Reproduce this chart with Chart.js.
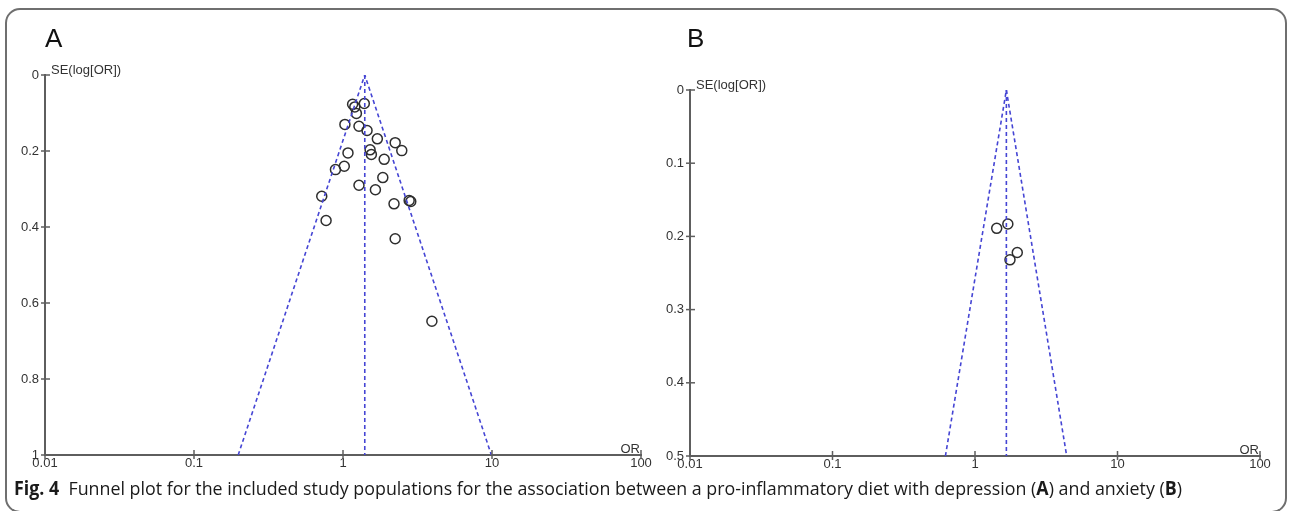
<!DOCTYPE html>
<html>
<head>
<meta charset="utf-8">
<script src="https://cdn.jsdelivr.net/npm/chart.js@4.4.1/dist/chart.umd.min.js"></script>
<style>
  html, body { margin: 0; padding: 0; background: #fff; }
  #wrap { position: relative; width: 1290px; height: 511px; overflow: hidden; }
  #frame { position: absolute; left: 5px; top: 8px; width: 1278px; height: 501px;
    border: 2px solid #6f6f6f; border-radius: 15px; }
  canvas { position: absolute; top: 0; }
  .panel { position: absolute; top: 25px; font: 26px/26px "Liberation Sans", Arial, sans-serif; color: #111; }
  #caption { position: absolute; left: 14px; top: 479px; font: 19px/19px "Open Sans", sans-serif;
    color: #1a1a1a; white-space: nowrap; transform-origin: 0 0; }
</style>
</head>
<body>
<div id="wrap">
  <div id="frame"></div>
  <canvas id="chartA" width="660" height="480" style="left:0px"></canvas>
  <canvas id="chartB" width="645" height="480" style="left:645px"></canvas>
  <div class="panel" style="left:45px">A</div>
  <div class="panel" style="left:687px">B</div>
  <div id="caption"><b>Fig. 4</b>&nbsp; Funnel plot for the included study populations for the association between a pro-inflammatory diet with depression (<b>A</b>) and anxiety (<b>B</b>)</div>
</div>
<script>
// tick values
const xTicks = [0.01, 0.1, 1, 10, 100];
const yTicksA = [0, 0.2, 0.4, 0.6, 0.8, 1];
const yTicksB = [0, 0.1, 0.2, 0.3, 0.4, 0.5];

// panel A: depression studies (OR, SE of log OR)
const orA = [1.16, 1.20, 1.23, 1.39, 1.03, 1.28, 1.45, 1.70, 2.24, 2.48, 1.52, 1.55, 1.08,
  1.89, 1.02, 0.89, 1.85, 1.28, 1.65, 0.72, 2.20, 2.78, 2.85, 0.77, 2.24, 3.95];
const seA = [0.077, 0.084, 0.101, 0.075, 0.130, 0.135, 0.146, 0.168, 0.178, 0.199, 0.197, 0.209, 0.205,
  0.222, 0.240, 0.249, 0.270, 0.290, 0.302, 0.319, 0.339, 0.330, 0.333, 0.383, 0.431, 0.648];
const pooledA = 1.40;
const funnelA = [0.198, 9.9];   // limits at the bottom of the axis
const seMaxA = 1;

// panel B: anxiety studies
const orB = [1.42, 1.70, 1.98, 1.76];
const seB = [0.189, 0.183, 0.222, 0.232];
const pooledB = 1.66;
const funnelB = [0.62, 4.4];
const seMaxB = 0.5;

const xTitle = 'OR';
const yTitle = 'SE(log[OR])';

const FONT = { family: '"Liberation Sans", Arial, sans-serif', size: 13 };
const AXIS = '#5e5e5e';
const BLUE = '#4545d4';

// tick marks crossing the axes + the small axis titles
const axisDecor = {
  id: 'axisDecor',
  afterDraw(chart) {
    const { ctx, chartArea, scales } = chart;
    ctx.save();
    ctx.strokeStyle = AXIS;
    ctx.lineWidth = 1.5;
    scales.x.ticks.forEach(t => {
      const px = scales.x.getPixelForValue(t.value);
      ctx.beginPath();
      ctx.moveTo(px, chartArea.bottom - 5);
      ctx.lineTo(px, chartArea.bottom + 4);
      ctx.stroke();
    });
    scales.y.ticks.forEach(t => {
      const py = scales.y.getPixelForValue(t.value);
      ctx.beginPath();
      ctx.moveTo(chartArea.left - 4, py);
      ctx.lineTo(chartArea.left + 5, py);
      ctx.stroke();
    });
    ctx.fillStyle = '#333';
    ctx.font = FONT.size + 'px ' + FONT.family;
    ctx.textBaseline = 'alphabetic';
    ctx.textAlign = 'left';
    ctx.fillText(yTitle, chartArea.left + 6, chartArea.top - 1);
    ctx.textAlign = 'right';
    ctx.fillText(xTitle, chartArea.right - 1, chartArea.bottom - 2);
    ctx.restore();
  }
};

function makeFunnel(id, ors, ses, pooled, limits, seMax, yTicks, pad, axisW, axisH) {
  const pts = ors.map((v, i) => ({ x: v, y: ses[i] }));
  const dashed = { type: 'line', showLine: true, borderColor: BLUE, borderWidth: 1.6,
    borderDash: [4, 3], pointRadius: 0, fill: false, tension: 0 };
  return new Chart(document.getElementById(id), {
    type: 'scatter',
    data: {
      datasets: [
        Object.assign({ data: [{ x: limits[0], y: seMax }, { x: pooled, y: 0 }, { x: limits[1], y: seMax }] }, dashed),
        Object.assign({ data: [{ x: pooled, y: 0 }, { x: pooled, y: seMax }] }, dashed),
        { data: pts, pointRadius: 5, pointBorderWidth: 1.5, borderColor: '#2e2e2e',
          backgroundColor: 'rgba(0,0,0,0)', pointStyle: 'circle' }
      ]
    },
    options: {
      responsive: false,
      animation: false,
      events: [],
      layout: { padding: pad },
      plugins: { legend: { display: false }, tooltip: { enabled: false } },
      scales: {
        x: {
          type: 'logarithmic', min: xTicks[0], max: xTicks[xTicks.length - 1],
          grid: { display: false, drawTicks: false },
          border: { display: true, color: AXIS, width: 2 },
          afterBuildTicks: s => { s.ticks = xTicks.map(v => ({ value: v })); },
          afterFit: s => { s.height = axisH; },
          ticks: { font: FONT, color: '#333', padding: 1, autoSkip: false, maxRotation: 0,
            callback: v => String(v) }
        },
        y: {
          type: 'linear', reverse: true, min: 0, max: seMax,
          grid: { display: false, drawTicks: false },
          border: { display: true, color: AXIS, width: 2 },
          afterBuildTicks: s => { s.ticks = yTicks.map(v => ({ value: v })); },
          afterFit: s => { s.width = axisW; },
          ticks: { font: FONT, color: '#333', padding: 6, callback: v => String(v) }
        }
      }
    },
    plugins: [axisDecor]
  });
}

makeFunnel('chartA', orA, seA, pooledA, funnelA, seMaxA, yTicksA,
  { top: 75, right: 19, left: 0, bottom: 0 }, 45, 25);
makeFunnel('chartB', orB, seB, pooledB, funnelB, seMaxB, yTicksB,
  { top: 90, right: 30, left: 0, bottom: 0 }, 45, 24);

// squeeze the caption to the width it has in the figure
const cap = document.getElementById('caption');
const w = cap.getBoundingClientRect().width;
cap.style.transform = 'scaleX(' + (1168 / w) + ')';
</script>
</body>
</html>
